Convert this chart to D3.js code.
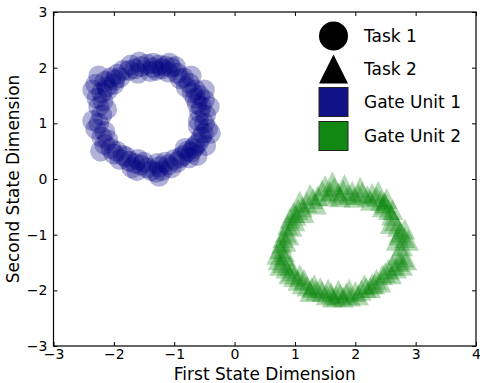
<!DOCTYPE html>
<html>
<head>
<meta charset="utf-8">
<script src="https://cdn.jsdelivr.net/npm/d3@7"></script>
<style>
  html, body { margin: 0; padding: 0; background: #fff; }
  svg { display: block; font-family: "DejaVu Sans", sans-serif; }
</style>
</head>
<body>
<svg id="chart" width="480" height="383"></svg>
<script>
// ---- Data ----
const xTicks = [-3, -2, -1, 0, 1, 2, 3, 4];
const yTicks = [-3, -2, -1, 0, 1, 2, 3];
const legendLabels = ["Task 1", "Task 2", "Gate Unit 1", "Gate Unit 2"];

// Task 1 / Gate Unit 1 (circles)
const task1X = [-1.25, -1.15, -1.35, -1.45, -1.55, -1.65, -1.75, -1.05, -0.95, -0.85,
                -0.75, -0.65, -0.58, -0.50, -0.55, -0.48, -0.50, -0.45, -0.52, -0.60,
                -0.68, -0.78, -0.85, -0.75, -0.95, -1.05, -1.20, -1.30, -1.25, -1.45,
                -1.55, -1.65, -1.75, -1.85, -1.95, -2.05, -2.15, -2.20, -2.30, -2.25,
                -2.20, -2.25, -2.28, -2.20, -2.30, -2.15, -2.05, -1.95, -1.85, -2.10,
                -2.00, -0.65, -0.60, -1.10,
                -1.30, -1.40, -1.20, -1.60, -1.10, -0.90, -0.80, -0.70, -0.62, -0.58,
                -0.60, -0.55, -0.65, -0.72, -0.82, -0.90, -1.00, -1.15, -1.28, -1.38,
                -1.50, -1.60, -1.70, -1.80, -1.90, -2.00, -2.10, -2.15, -2.35, -2.12,
                -2.18, -2.12, -1.98, -1.90, -1.72, -1.58, -1.35, -1.08, -0.98, -0.72,
                -0.50, -0.42, -0.40, -0.48, -0.62, -1.25, -1.62, -2.22, -2.35, -2.25];
const task1Y = [2.05, 2.03, 2.00, 2.06, 2.02, 1.98, 1.95, 2.00, 1.90, 1.82,
                1.72, 1.60, 1.50, 1.42, 1.30, 1.15, 1.00, 0.90, 0.82, 0.65,
                0.55, 0.50, 0.42, 0.38, 0.30, 0.20, 0.15, 0.12, 0.22, 0.20,
                0.25, 0.28, 0.32, 0.42, 0.50, 0.55, 0.62, 0.75, 0.90, 1.00,
                1.15, 1.30, 1.45, 1.55, 1.70, 1.75, 1.82, 1.88, 1.95, 1.60,
                1.70, 1.45, 0.95, 0.25,
                1.95, 1.93, 1.98, 1.90, 1.92, 1.80, 1.65, 1.55, 1.35, 1.20,
                1.05, 0.75, 0.60, 0.48, 0.55, 0.38, 0.35, 0.30, 0.28, 0.15,
                0.30, 0.35, 0.20, 0.40, 0.35, 0.45, 0.70, 0.85, 1.05, 1.25,
                1.40, 1.65, 1.78, 1.82, 2.05, 2.10, 2.08, 2.08, 2.02, 1.85,
                1.60, 1.30, 0.82, 0.60, 0.42, 0.05, 0.15, 0.50, 1.60, 1.85];

// Task 2 / Gate Unit 2 (triangles)
const task2X = [1.45, 1.50, 1.58, 1.65, 1.72, 1.80, 1.88, 1.95, 2.05, 2.12,
                2.20, 2.28, 2.35, 2.42, 1.38, 1.30, 1.20, 1.12, 1.05, 0.98,
                0.92, 1.00, 0.88, 0.85, 0.80, 0.78, 0.75, 0.82, 0.72, 0.80,
                0.85, 0.90, 0.98, 1.05, 1.12, 1.20, 1.28, 1.35, 1.45, 1.52,
                1.60, 1.68, 1.75, 1.85, 1.92, 2.00, 2.10, 2.18, 2.28, 2.35,
                2.45, 2.55, 2.62, 2.72, 2.80, 2.70, 2.78, 2.82, 2.75, 2.70,
                2.65, 2.60, 2.55, 2.50,
                1.55, 1.62, 1.75, 1.82, 1.98, 2.08, 2.25, 2.38, 2.48, 2.52,
                1.35, 1.25, 1.15, 1.08, 0.95, 1.02, 0.90, 0.85, 0.82, 0.70,
                0.75, 0.92, 0.95, 1.08, 1.15, 1.25, 1.32, 1.42, 1.55, 1.62,
                1.72, 1.80, 1.90, 2.05, 2.15, 2.25, 2.32, 2.42, 2.50, 2.60,
                2.68, 2.78, 2.85, 2.88, 2.68, 2.72, 2.82, 2.58, 2.62, 2.45];
const task2Y = [-0.20, -0.12, -0.22, -0.15, -0.25, -0.20, -0.28, -0.22, -0.27, -0.24,
                -0.30, -0.26, -0.32, -0.38, -0.30, -0.35, -0.42, -0.50, -0.55, -0.60,
                -0.70, -0.75, -0.82, -0.95, -1.05, -1.15, -1.25, -1.30, -1.45, -1.50,
                -1.60, -1.70, -1.75, -1.82, -1.88, -1.92, -1.95, -2.00, -2.02, -2.08,
                -2.05, -2.10, -2.07, -2.05, -2.10, -2.02, -2.00, -1.95, -1.88, -1.80,
                -1.72, -1.62, -1.55, -1.48, -1.40, -1.35, -1.20, -1.05, -0.95, -0.85,
                -0.75, -0.65, -0.55, -0.45,
                -0.30, -0.05, -0.32, -0.10, -0.33, -0.15, -0.38, -0.22, -0.42, -0.35,
                -0.45, -0.28, -0.60, -0.40, -0.85, -0.65, -1.00, -1.12, -1.38, -1.35,
                -1.55, -1.55, -1.65, -1.72, -1.80, -2.02, -1.90, -1.95, -1.98, -2.12,
                -2.00, -2.12, -1.98, -2.08, -1.90, -1.95, -1.88, -1.85, -1.68, -1.70,
                -1.60, -1.55, -1.45, -1.10, -1.10, -1.00, -0.90, -0.80, -0.55, -0.50];

// ---- Layout ----
const svg = d3.select("#chart");
const L = 53.5, R = 476, T = 12, B = 346;
const x = d3.scaleLinear().domain([-3, 4]).range([L, R]);
const y = d3.scaleLinear().domain([-3, 3]).range([B, T]);
const fmt = d => d < 0 ? "\u2212" + Math.abs(d) : String(d);

const blue = "#000080", green = "#008000";
const markerSize = 21;

// points
const circles = task1X.map((v, i) => ({x: v, y: task1Y[i]}));
const tris = task2X.map((v, i) => ({x: v, y: task2Y[i]}));

svg.append("g").selectAll("circle").data(circles).join("circle")
  .attr("cx", d => x(d.x)).attr("cy", d => y(d.y))
  .attr("r", markerSize / 2)
  .attr("fill", blue).attr("fill-opacity", 0.3);

const triPath = s => `M0,${-s/2}L${s/2},${s/2}L${-s/2},${s/2}Z`;
svg.append("g").selectAll("path").data(tris).join("path")
  .attr("transform", d => `translate(${x(d.x)},${y(d.y)})`)
  .attr("d", triPath(markerSize))
  .attr("fill", green).attr("fill-opacity", 0.3);

// axes (inward ticks on all sides)
const tickLen = 4;
const axB = svg.append("g").attr("transform", `translate(0,${B})`)
  .call(d3.axisBottom(x).tickValues(xTicks).tickSizeInner(-tickLen).tickSizeOuter(0).tickPadding(3).tickFormat(fmt));
const axT = svg.append("g").attr("transform", `translate(0,${T})`)
  .call(d3.axisTop(x).tickValues(xTicks).tickSizeInner(-tickLen).tickSizeOuter(0).tickFormat(""));
const axL = svg.append("g").attr("transform", `translate(${L},0)`)
  .call(d3.axisLeft(y).tickValues(yTicks).tickSizeInner(-tickLen).tickSizeOuter(0).tickPadding(6).tickFormat(fmt));
const axR = svg.append("g").attr("transform", `translate(${R},0)`)
  .call(d3.axisRight(y).tickValues(yTicks).tickSizeInner(-tickLen).tickSizeOuter(0).tickFormat(""));
[axB, axT, axL, axR].forEach(a => {
  a.select(".domain").remove();
  a.selectAll("line").attr("stroke", "#000").attr("stroke-width", 1);
  a.selectAll("text").attr("font-size", 14).attr("font-family", "DejaVu Sans").attr("fill", "#000");
});

// frame
svg.append("rect").attr("x", L).attr("y", T).attr("width", R - L).attr("height", B - T)
  .attr("fill", "none").attr("stroke", "#000").attr("stroke-width", 1.2);

// axis labels
svg.append("text").attr("x", (L + R) / 2).attr("y", 380)
  .attr("text-anchor", "middle").attr("font-size", 17).text("First State Dimension");
svg.append("text").attr("transform", `translate(19,${(T + B) / 2}) rotate(-90)`)
  .attr("text-anchor", "middle").attr("font-size", 17).text("Second State Dimension");

// legend
const lg = svg.append("g");
const lx = 333.5, ly0 = 36, lstep = 33;
const ls = 29;
lg.append("circle").attr("cx", lx).attr("cy", ly0).attr("r", ls / 2).attr("fill", "#000");
lg.append("path").attr("transform", `translate(${lx},${ly0 + lstep})`).attr("d", triPath(ls)).attr("fill", "#000");
lg.append("rect").attr("x", lx - ls / 2).attr("y", ly0 + 2 * lstep - ls / 2).attr("width", ls).attr("height", ls)
  .attr("fill", "#111188").attr("stroke", "#222").attr("stroke-width", 1);
lg.append("rect").attr("x", lx - ls / 2).attr("y", ly0 + 3 * lstep - ls / 2 + 1).attr("width", ls).attr("height", ls)
  .attr("fill", "#118811").attr("stroke", "#222").attr("stroke-width", 1);
legendLabels.forEach((t, i) => {
  lg.append("text").attr("x", 364).attr("y", ly0 + i * lstep + (i === 3 ? 1 : 0))
    .attr("dy", "0.35em").attr("font-size", 17).text(t);
});
</script>
</body>
</html>
